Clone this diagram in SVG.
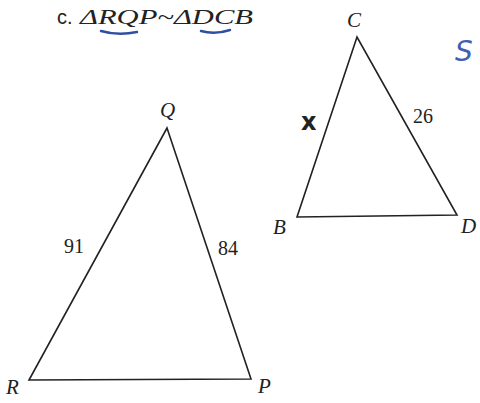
<svg xmlns="http://www.w3.org/2000/svg" width="480" height="403" viewBox="0 0 480 403">
<style>
.edge{stroke:#222;stroke-width:1.6;fill:none;stroke-linecap:round}
.lbl{font-family:"Liberation Serif",serif;font-style:italic;font-size:21px;fill:#222}
.num{font-family:"Liberation Serif",serif;font-size:20px;fill:#222}
.blue{stroke:#2f4fa0;stroke-width:2.5;fill:none;stroke-linecap:round}
</style>
<rect width="480" height="403" fill="#fff"/>
<g id="title">
<text x="57" y="24" font-family="Liberation Sans,sans-serif" font-size="20" fill="#222">c.</text>
<text x="80" y="24" class="lbl" font-size="24" textLength="173" lengthAdjust="spacingAndGlyphs">ΔRQP~ΔDCB</text>
<path class="blue" d="M101 31 Q118 36 137 32"/>
<path class="blue" d="M201 31 Q215 35 230 30"/>
<text x="455" y="61" font-family="DejaVu Sans,sans-serif" font-style="italic" font-size="28" fill="#3f5fb0">S</text>
</g>
<g id="connectors">
<path class="edge" d="M167 128 L29 380 L251 379 Z"/>
<path class="edge" d="M357 37 L297 217 L457 215 Z"/>
</g>
<g id="Q"><text x="160" y="117" class="lbl">Q</text></g>
<g id="R"><text x="6" y="394" class="lbl">R</text></g>
<g id="P"><text x="258" y="393" class="lbl">P</text></g>
<g id="C"><text x="347" y="27" class="lbl">C</text></g>
<g id="B"><text x="273" y="234" class="lbl">B</text></g>
<g id="D"><text x="461" y="233" class="lbl">D</text></g>
<g id="labels">
<text x="64" y="253" class="num">91</text>
<text x="218" y="255" class="num">84</text>
<text x="413" y="123" class="num">26</text>
<text x="301" y="130" font-family="DejaVu Sans,sans-serif" font-weight="bold" font-size="24" fill="#222">x</text>
</g>
</svg>
